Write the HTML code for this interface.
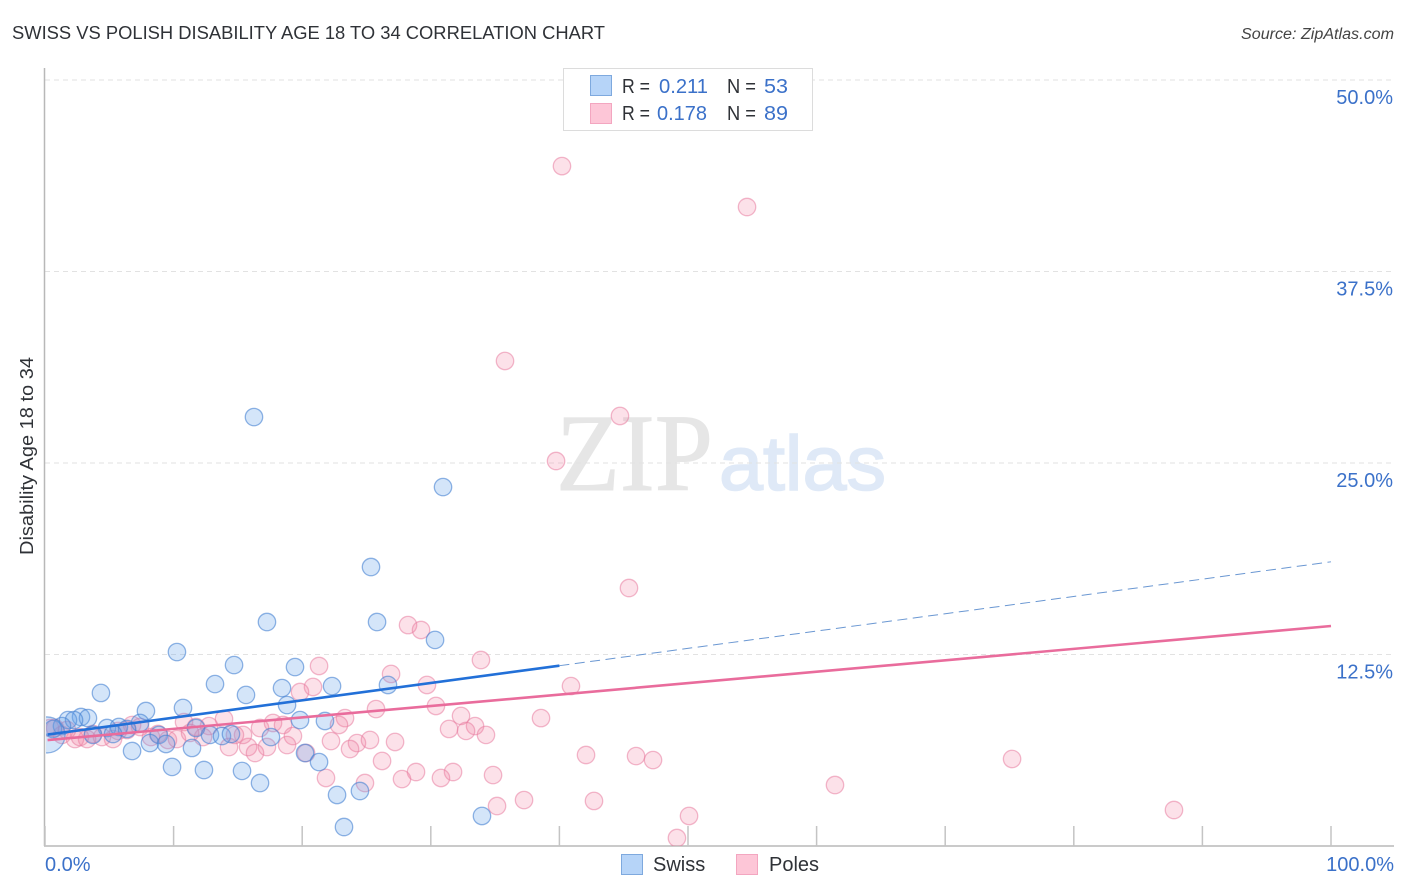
<!DOCTYPE html>
<html>
<head>
<meta charset="utf-8">
<title>Swiss vs Polish Disability Age 18 to 34 Correlation Chart</title>
<style>
html,body{margin:0;padding:0;background:#fff;width:1406px;height:892px;overflow:hidden}
svg{display:block}
text{font-family:"Liberation Sans",sans-serif}
</style>
</head>
<body>
<svg id="chart" width="1406" height="892" viewBox="0 0 1406 892" xmlns="http://www.w3.org/2000/svg">
  <defs><clipPath id="plot-clip"><rect x="46" y="60" width="1350" height="786"/></clipPath></defs>
  <text x="12" y="39" font-size="18.5" fill="#2f3237" textLength="593" lengthAdjust="spacingAndGlyphs">SWISS VS POLISH DISABILITY AGE 18 TO 34 CORRELATION CHART</text>
  <text x="1241" y="39" font-size="15.5" font-style="italic" fill="#444" textLength="153" lengthAdjust="spacingAndGlyphs">Source: ZipAtlas.com</text>
  <g>
    <text x="556" y="490" font-size="110" fill="#e6e6e6" stroke="#e6e6e6" stroke-width="1" textLength="157" lengthAdjust="spacingAndGlyphs" style='font-family:"Liberation Serif",serif'>ZIP</text>
    <text x="719" y="490" font-size="77" fill="#dfe9f7" stroke="#dfe9f7" stroke-width="1.6" textLength="167" lengthAdjust="spacingAndGlyphs">atlas</text>
  </g>
  <g id="grid"></g>
  <g id="axes"></g>
  <g id="pointsPink" clip-path="url(#plot-clip)"></g>
  <g id="pointsBlue" clip-path="url(#plot-clip)"></g>
  <g id="trends"></g>
  <text transform="translate(33,456) rotate(-90)" font-size="18.5" fill="#2f3237" text-anchor="middle" textLength="198" lengthAdjust="spacingAndGlyphs">Disability Age 18 to 34</text>
  <g>
    <rect x="563.5" y="68.5" width="249" height="62" fill="#fff" stroke="#dcdcdc"/>
    <rect x="590.5" y="75.5" width="21" height="20" fill="#b6d4f8" stroke="#7ea9de"/>
    <rect x="590.5" y="103.5" width="21" height="20" fill="#fdc6d7" stroke="#f3a6c0"/>
    <text x="622" y="93" font-size="20" fill="#2f3237" textLength="28" lengthAdjust="spacingAndGlyphs">R =</text>
    <text x="659" y="93" font-size="20" fill="#3b71c9" textLength="49" lengthAdjust="spacingAndGlyphs">0.211</text>
    <text x="727" y="93" font-size="20" fill="#2f3237" textLength="29" lengthAdjust="spacingAndGlyphs">N =</text>
    <text x="764" y="93" font-size="20" fill="#3b71c9" textLength="24" lengthAdjust="spacingAndGlyphs">53</text>
    <text x="622" y="120" font-size="20" fill="#2f3237" textLength="28" lengthAdjust="spacingAndGlyphs">R =</text>
    <text x="657" y="120" font-size="20" fill="#3b71c9" textLength="50" lengthAdjust="spacingAndGlyphs">0.178</text>
    <text x="727" y="120" font-size="20" fill="#2f3237" textLength="29" lengthAdjust="spacingAndGlyphs">N =</text>
    <text x="764" y="120" font-size="20" fill="#3b71c9" textLength="24" lengthAdjust="spacingAndGlyphs">89</text>
  </g>
  <g>
    <rect x="621.5" y="854.5" width="21" height="20" fill="#b6d4f8" stroke="#7ea9de"/>
    <text x="653" y="871" font-size="20" fill="#2f3237">Swiss</text>
    <rect x="736.5" y="854.5" width="21" height="20" fill="#fdc6d7" stroke="#f3a6c0"/>
    <text x="769" y="871" font-size="20" fill="#2f3237">Poles</text>
  </g>
</svg>
<script>
const yTickValues = [50, 37.5, 25, 12.5];
const yTickLabels = ["50.0%", "37.5%", "25.0%", "12.5%"];
const xTickValues = [0, 10, 20, 30, 40, 50, 60, 70, 80, 90, 100];
const xEndValues = [0, 100];
const xEndLabels = ["0.0%", "100.0%"];

const swissX = [16.25,30.95,25.35,25.82,17.26,30.33,10.26,14.70,19.44,13.22,22.32,26.67,18.43,4.35,15.63,18.82,10.73,7.85,2.80,3.34,1.79,2.26,19.83,21.77,7.39,4.82,5.75,6.38,11.74,1.32,0.62,5.29,3.73,8.86,12.83,13.76,14.46,17.57,8.16,9.41,11.43,6.77,20.22,21.31,9.88,12.36,15.32,16.72,22.71,24.49,23.25,33.98];
const swissY = [28.00,23.43,18.21,14.62,14.62,13.45,12.66,11.81,11.68,10.57,10.44,10.51,10.31,9.99,9.86,9.20,9.01,8.81,8.42,8.35,8.22,8.22,8.22,8.16,8.03,7.70,7.77,7.64,7.70,7.83,7.64,7.31,7.25,7.25,7.25,7.18,7.31,7.11,6.72,6.66,6.40,6.20,6.07,5.48,5.16,4.96,4.90,4.11,3.33,3.59,1.24,1.96];
const swissLargeX = [0.16];
const swissLargeY = [7.25];

const polesX = [40.20,54.59,35.77,44.71,39.74,45.41,28.23,29.24,33.90,26.91,21.31,20.84,19.83,29.70,40.90,25.74,30.40,32.35,23.33,22.86,38.57,31.42,33.44,32.74,34.29,22.24,24.26,23.72,25.27,27.22,42.07,26.21,28.85,24.88,21.85,27.76,31.73,30.79,34.84,35.15,37.25,42.69,45.96,47.28,61.43,75.20,87.79,50.08,49.14,17.73,18.51,16.72,13.92,12.75,10.81,19.28,18.82,17.26,15.79,16.33,14.31,15.40,11.74,10.26,9.56,8.79,8.24,7.39,6.77,6.38,5.29,4.43,3.73,3.27,2.33,2.72,1.71,1.32,0.78,0.39,12.29,14.77,20.30,11.28,5.68];
const polesY = [44.38,41.71,31.66,28.07,25.13,16.84,14.42,14.10,12.14,11.23,11.75,10.38,10.05,10.51,10.44,8.94,9.14,8.49,8.35,7.90,8.35,7.64,7.83,7.51,7.25,6.85,6.72,6.33,6.92,6.79,5.94,5.55,4.83,4.11,4.44,4.37,4.83,4.44,4.63,2.61,3.00,2.94,5.87,5.61,3.98,5.68,2.35,1.96,0.52,8.03,7.90,7.70,8.29,7.83,8.09,7.18,6.59,6.46,6.46,6.07,6.46,7.25,7.77,6.98,6.92,7.31,7.11,7.77,7.90,7.57,6.98,7.11,7.31,6.98,6.98,7.11,7.57,7.25,7.70,7.70,7.11,7.25,6.07,7.38,7.51];

const swissTrendIntercept = [7.25];
const swissTrendSlope = [0.113];
const swissSolidEnd = [40];
const polesTrendIntercept = [6.9];
const polesTrendSlope = [0.0746];
const trendStart = [0.2];
const trendEnd = [100];

const SVGNS = "http://www.w3.org/2000/svg";
function xScale(v){ return 45 + v * 12.86; }
function yScale(v){ return 846 - v * 15.32; }
function make(tag, parent, attrs){
  const el = document.createElementNS(SVGNS, tag);
  for (const k in attrs) el.setAttribute(k, attrs[k]);
  parent.appendChild(el);
  return el;
}
const gridG = document.getElementById("grid");
const axesG = document.getElementById("axes");
const blueG = document.getElementById("pointsBlue");
const pinkG = document.getElementById("pointsPink");
const trendG = document.getElementById("trends");

yTickValues.forEach(function(v, i){
  const line = make("line", gridG, {x1:45, x2:1394, y1:yScale(v), y2:yScale(v), stroke:"#e2e2e2", "stroke-width":1, "stroke-dasharray":"5 4"});
  
  
  const label = make("text", axesG, {x:1393, y:yScale(v) + 24, "font-size":20, fill:"#3b71c9", "text-anchor":"end"});
  label.textContent = yTickLabels[i];
  
  
});

const yAxis = make("line", axesG, {x1:44.5, x2:44.5, y1:68, y2:846, stroke:"#b8b8b8", "stroke-width":1.5});


const xAxis = make("line", axesG, {x1:44, x2:1394, y1:846, y2:846, stroke:"#b8b8b8", "stroke-width":1.5});



xTickValues.forEach(function(v){
  const tick = make("line", axesG, {x1:xScale(v), x2:xScale(v), y1:826, y2:846, stroke:"#c4c4c4", "stroke-width":1.5});
  
  
});

xEndValues.forEach(function(v, i){
  const label = make("text", axesG, {x: i === 0 ? xScale(v) : 1394, y:871, "font-size":20, fill:"#3b71c9", "text-anchor": i === 0 ? "start" : "end"});
  label.textContent = xEndLabels[i];
  
  
});

polesX.forEach(function(v, i){
  const c = make("circle", pinkG, {cx:xScale(v), cy:yScale(polesY[i]), r:8.7, fill:"rgba(242,130,165,0.24)", stroke:"rgba(232,125,160,0.55)", "stroke-width":1.3});
  
  
});
swissX.forEach(function(v, i){
  const c = make("circle", blueG, {cx:xScale(v), cy:yScale(swissY[i]), r:8.7, fill:"rgba(100,160,235,0.28)", stroke:"rgba(70,130,210,0.6)", "stroke-width":1.3});
  
  
});
swissLargeX.forEach(function(v, i){
  const c = make("circle", blueG, {cx:xScale(v), cy:yScale(swissLargeY[i]), r:18, fill:"rgba(100,160,235,0.28)", stroke:"rgba(70,130,210,0.6)", "stroke-width":1.3});
  
  
});

function swissTrend(x){ return swissTrendIntercept[0] + swissTrendSlope[0] * x; }
function polesTrend(x){ return polesTrendIntercept[0] + polesTrendSlope[0] * x; }

const swissDash = make("line", trendG, {x1:xScale(swissSolidEnd[0]), y1:yScale(swissTrend(swissSolidEnd[0])), x2:xScale(trendEnd[0]), y2:yScale(swissTrend(trendEnd[0])), stroke:"#6a97d2", "stroke-width":1, "stroke-dasharray":"10 5.5"});


const polesLine = make("line", trendG, {x1:xScale(trendStart[0]), y1:yScale(polesTrend(trendStart[0])), x2:xScale(trendEnd[0]), y2:yScale(polesTrend(trendEnd[0])), stroke:"#e96c9c", "stroke-width":2.6});


const swissLine = make("line", trendG, {x1:xScale(trendStart[0]), y1:yScale(swissTrend(trendStart[0])), x2:xScale(swissSolidEnd[0]), y2:yScale(swissTrend(swissSolidEnd[0])), stroke:"#2270d8", "stroke-width":2.6});


</script>
</body>
</html>
